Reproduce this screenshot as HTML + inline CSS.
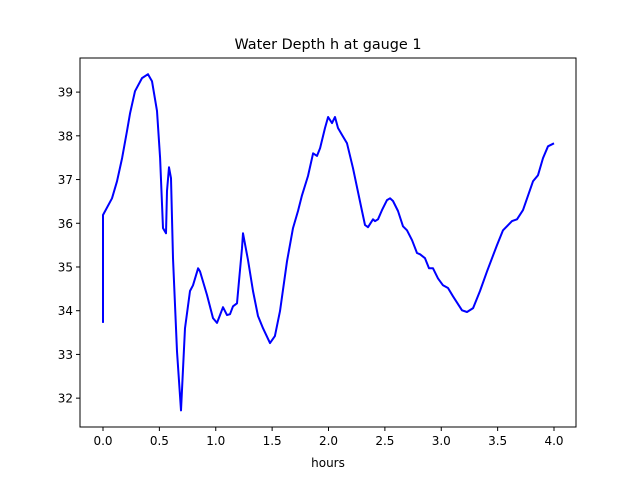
<!DOCTYPE html>
<html><head><meta charset="utf-8"><style>
body{margin:0;background:#fff;}
svg text{font-family:"DejaVu Sans","Liberation Sans",sans-serif;fill:#000;}
</style></head><body>
<svg id="chart" width="640" height="480" xmlns="http://www.w3.org/2000/svg">
<rect width="640" height="480" fill="#fff"/>
<text x="328" y="49" font-size="14.4" text-anchor="middle">Water Depth h at gauge 1</text>
<g id="plot"></g>
<text x="328" y="467" font-size="12" text-anchor="middle">hours</text>
</svg>
<script>
const times=[0,0,0.08,0.124,0.169,0.213,0.24,0.284,0.346,0.399,0.435,0.479,0.506,0.532,0.559,0.568,0.585,0.603,0.621,0.656,0.692,0.727,0.772,0.798,0.843,0.86,0.922,0.976,1.011,1.038,1.064,1.1,1.126,1.153,1.188,1.206,1.233,1.242,1.286,1.33,1.375,1.419,1.481,1.525,1.57,1.632,1.685,1.729,1.765,1.818,1.863,1.898,1.925,1.969,1.996,2.031,2.058,2.084,2.12,2.164,2.217,2.297,2.324,2.35,2.395,2.412,2.439,2.474,2.519,2.545,2.572,2.616,2.661,2.696,2.741,2.785,2.812,2.856,2.891,2.927,2.971,3.015,3.06,3.104,3.184,3.228,3.282,3.344,3.406,3.494,3.548,3.627,3.672,3.725,3.814,3.858,3.902,3.947,4.0];
const depths=[33.72,36.19,36.57,36.96,37.49,38.11,38.52,39.02,39.32,39.41,39.25,38.57,37.49,35.89,35.77,36.74,37.28,37.03,35.2,33.07,31.72,33.6,34.45,34.58,34.97,34.9,34.36,33.83,33.72,33.9,34.08,33.9,33.92,34.1,34.17,34.68,35.43,35.77,35.16,34.45,33.88,33.6,33.26,33.42,33.99,35.13,35.89,36.28,36.64,37.08,37.6,37.54,37.72,38.18,38.43,38.29,38.43,38.18,38.02,37.83,37.26,36.28,35.96,35.91,36.09,36.05,36.09,36.3,36.53,36.57,36.51,36.28,35.93,35.84,35.61,35.32,35.29,35.2,34.97,34.97,34.74,34.58,34.52,34.33,34.01,33.97,34.06,34.45,34.9,35.5,35.84,36.05,36.09,36.3,36.96,37.1,37.49,37.76,37.83];
const xTicks=[0,0.5,1,1.5,2,2.5,3,3.5,4];
const xTickLabels=["0.0","0.5","1.0","1.5","2.0","2.5","3.0","3.5","4.0"];
const yTicks=[32,33,34,35,36,37,38,39];
const yTickLabels=["32","33","34","35","36","37","38","39"];
const L=80,R=576,T=58,B=427;
const xMin=-0.204,xMax=4.195,yMin=31.34,yMax=39.78;
function xs(v){return L+(v-xMin)/(xMax-xMin)*(R-L);}
function ys(v){return B-(v-yMin)/(yMax-yMin)*(B-T);}
const NS="http://www.w3.org/2000/svg";
const g=document.getElementById('plot');
function mk(t,a){const e=document.createElementNS(NS,t);for(const k in a)e.setAttribute(k,a[k]);g.appendChild(e);return e;}
const n=Math.min(times.length,depths.length);
let pts=[];for(let i=0;i<n;i++)pts.push(xs(times[i]).toFixed(1)+','+ys(depths[i]).toFixed(1));
const line=mk('polyline',{points:pts.join(' '),fill:'none',stroke:'#0000ff','stroke-width':2,'stroke-linejoin':'round'});


const frame=mk('rect',{x:L,y:T,width:R-L,height:B-T,fill:'none',stroke:'#000','stroke-width':1});


xTicks.forEach((v,i)=>{const x=xs(v);
const tk=mk('line',{x1:x,x2:x,y1:B,y2:B+4,stroke:'#000'});


const tx=mk('text',{x:x,y:B+18,'font-size':12,'text-anchor':'middle'});tx.textContent=xTickLabels[i];

});
yTicks.forEach((v,i)=>{const y=ys(v);
const tk=mk('line',{x1:L-4,x2:L,y1:y,y2:y,stroke:'#000'});


const tx=mk('text',{x:L-7,y:y+4.5,'font-size':12,'text-anchor':'end'});tx.textContent=yTickLabels[i];

});
</script>
</body></html>
